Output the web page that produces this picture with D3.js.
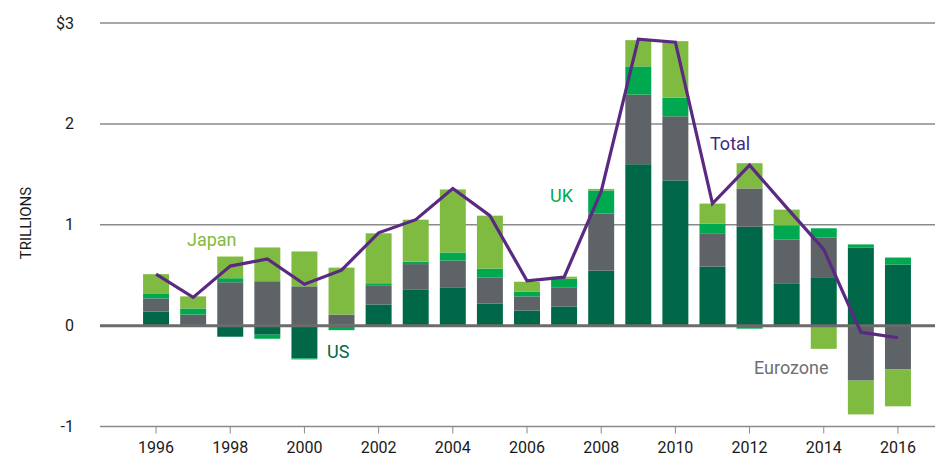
<!DOCTYPE html>
<html>
<head>
<meta charset="utf-8">
<script src="https://cdn.jsdelivr.net/npm/d3@7"></script>
<style>
  body { margin: 0; background: #fff; }
  text { font-family: Roboto, "Liberation Sans", sans-serif; }
</style>
</head>
<body>
<div id="chart"></div>
<script>
// values in trillions of dollars
var years = [1996, 1997, 1998, 1999, 2000, 2001, 2002, 2003, 2004, 2005, 2006,
             2007, 2008, 2009, 2010, 2011, 2012, 2013, 2014, 2015, 2016];
var us       = [0.14, 0.00, -0.11, -0.09, -0.325, 0.01, 0.21, 0.36, 0.38, 0.22, 0.15,
                0.19, 0.545, 1.60, 1.44, 0.585, 0.98, 0.42, 0.48, 0.775, 0.605];
var eurozone = [0.13, 0.11, 0.43, 0.44, 0.39, 0.10, 0.19, 0.25, 0.265, 0.255, 0.14,
                0.185, 0.565, 0.69, 0.635, 0.325, 0.38, 0.435, 0.395, -0.545, -0.435];
var uk       = [0.05, 0.06, 0.04, -0.04, -0.01, -0.045, 0.02, 0.025, 0.08, 0.09, 0.045,
                0.09, 0.23, 0.28, 0.185, 0.10, -0.03, 0.14, 0.09, 0.03, 0.07];
var japan    = [0.19, 0.12, 0.215, 0.335, 0.345, 0.465, 0.495, 0.415, 0.625, 0.525, 0.10,
                0.02, 0.015, 0.26, 0.56, 0.20, 0.25, 0.155, -0.23, -0.335, -0.365];
var total    = [0.51, 0.28, 0.59, 0.66, 0.41, 0.55, 0.92, 1.05, 1.36, 1.09, 0.445,
                0.48, 1.33, 2.84, 2.81, 1.21, 1.59, 1.17, 0.755, -0.065, -0.12];
var yTicks = [3, 2, 1, 0, -1];
var xTickYears = [1996, 1998, 2000, 2002, 2004, 2006, 2008, 2010, 2012, 2014, 2016];

var seriesKeys = ["US", "Eurozone", "UK", "Japan"];
var colors = {US: "#006848", Eurozone: "#5e6367", UK: "#00a84f", Japan: "#80bb41"};

var width = 935, height = 458;
var gridLeft = 100, gridRight = 935;

var rows = years.map(function(y, i){
    return {year: y, US: us[i], Eurozone: eurozone[i], UK: uk[i], Japan: japan[i]};
});

var x = d3.scaleBand().domain(years).range([137.5, 916.5])
          .paddingInner(0.3).paddingOuter(0.15);
var y = d3.scaleLinear().domain([-1, 3]).range([426.5, 23]);

var svg = d3.select("#chart").append("svg")
            .attr("width", width)
            .attr("height", height);

// grid lines (behind bars)
svg.append("g").selectAll("line")
   .data(yTicks.filter(function(d){ return d !== 0; }))
   .enter().append("line")
   .attr("x1", gridLeft).attr("x2", gridRight)
   .attr("y1", function(d){ return y(d); })
   .attr("y2", function(d){ return y(d); })
   .attr("stroke", "#8a8a8a")
   .attr("stroke-width", 1.5);

// y tick labels
svg.append("g").selectAll("text")
   .data(yTicks)
   .enter().append("text")
   .attr("x", 74)
   .attr("y", function(d){ return y(d); })
   .attr("dy", "0.35em")
   .attr("text-anchor", "end")
   .style("font-size", "16px")
   .attr("fill", "#1a1a1a")
   .text(function(d){ return d === 3 ? "$3" : d; });

svg.append("text")
   .attr("transform", "translate(31,223) rotate(-90)")
   .attr("text-anchor", "middle")
   .style("font-size", "15px")
   .attr("fill", "#1a1a1a")
   .text("TRILLIONS");

// x axis at the bottom
var xAxis = d3.axisBottom(x).tickValues(xTickYears).tickSize(7).tickSizeOuter(0);
var gx = svg.append("g")
   .attr("transform", "translate(0," + y(-1) + ")")
   .call(xAxis);
gx.select(".domain").remove();
gx.selectAll(".tick line").attr("stroke", "#8a8a8a").attr("stroke-width", 1);
gx.selectAll(".tick text")
  .attr("dy", "1.0em")
  .style("font-size", "16px")
  .style("font-family", "Roboto, sans-serif")
  .attr("fill", "#1a1a1a");

// stacked bars
var stack = d3.stack().keys(seriesKeys).offset(d3.stackOffsetDiverging);
var layers = stack(rows);

svg.append("g").selectAll("g")
   .data(layers)
   .enter().append("g")
   .attr("fill", function(d){ return colors[d.key]; })
   .selectAll("rect")
   .data(function(d){ return d; })
   .enter().append("rect")
   .attr("x", function(d){ return x(d.data.year); })
   .attr("width", x.bandwidth())
   .attr("y", function(d){ return y(Math.max(d[0], d[1])); })
   .attr("height", function(d){ return Math.abs(y(d[0]) - y(d[1])); });

// zero line on top of bars
svg.append("line")
   .attr("x1", gridLeft).attr("x2", gridRight)
   .attr("y1", y(0)).attr("y2", y(0))
   .attr("stroke", "#6b6b6b")
   .attr("stroke-width", 3);

// total line
var line = d3.line()
    .x(function(d, i){ return x(years[i]) + x.bandwidth() / 2; })
    .y(function(d){ return y(d); });

svg.append("path")
   .datum(total)
   .attr("d", line)
   .attr("fill", "none")
   .attr("stroke", "#5a2a82")
   .attr("stroke-width", 3.2)
   .attr("stroke-linejoin", "miter");

// series labels
var labels = [
    {text: "Japan", x: 187, y: 246, color: "#80bb41"},
    {text: "US", x: 327, y: 358, color: "#006848"},
    {text: "UK", x: 550, y: 202, color: "#00a84f"},
    {text: "Total", x: 710, y: 150, color: "#3f2b80"},
    {text: "Eurozone", x: 754, y: 374, color: "#6d6f72"}
];
svg.append("g").selectAll("text")
   .data(labels)
   .enter().append("text")
   .attr("x", function(d){ return d.x; })
   .attr("y", function(d){ return d.y; })
   .attr("fill", function(d){ return d.color; })
   .style("font-size", "18px")
   .text(function(d){ return d.text; });
</script>
</body>
</html>
